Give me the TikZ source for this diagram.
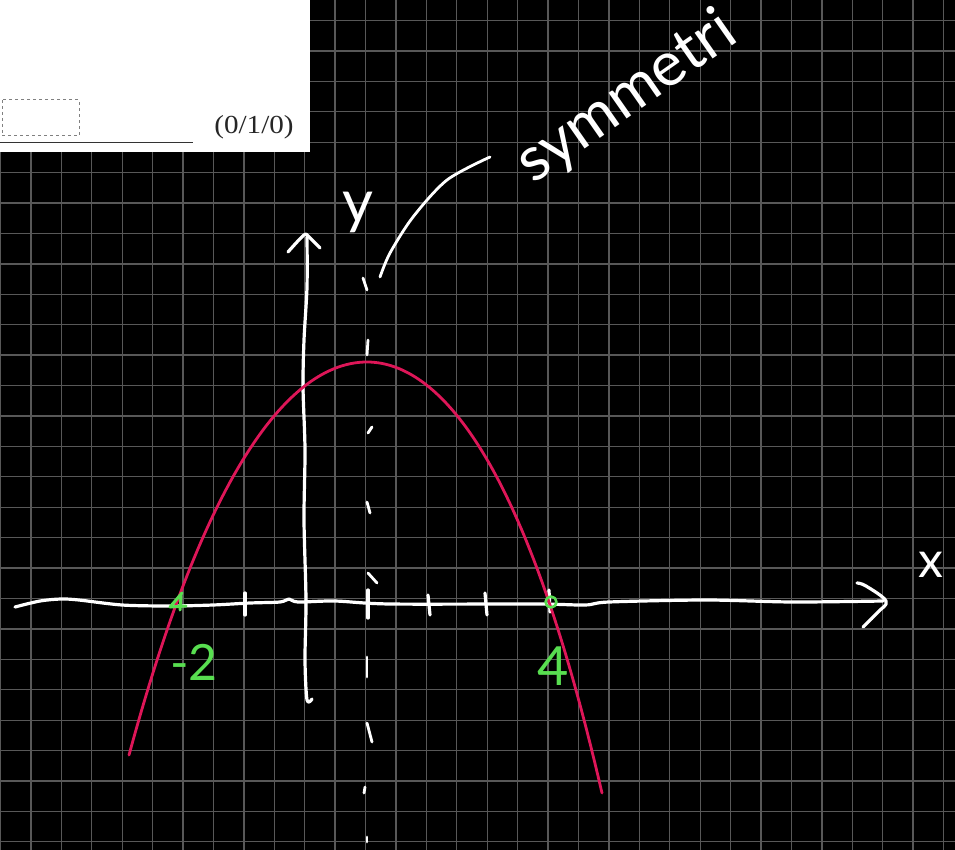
\documentclass[tikz,border=0pt]{standalone}
\usepackage{fontspec}
\setmainfont{Liberation Serif}
\newfontfamily\handfont{Lato}
\usetikzlibrary{positioning,calc}
\definecolor{gridgrey}{RGB}{88,88,88}
\definecolor{inkred}{RGB}{222,22,88}
\definecolor{inkgreen}{RGB}{88,222,80}
\tikzset{
  gridline/.style={draw=gridgrey,line width=1.3pt},
  chalk/.style={draw=white,line width=3.2pt,line cap=round,line join=round},
  redink/.style={draw=inkred,line width=2.8pt,line cap=round},
  greenink/.style={draw=inkgreen,line width=3pt,line cap=round,line join=round},
  handlabel/.style={font=\handfont\fontsize{#1}{#1}\selectfont,inner sep=0pt},
}
\begin{document}
\begin{tikzpicture}[x=1pt,y=-1pt]

\useasboundingbox (0,0) rectangle (955,850);
\fill[black] (0,0) rectangle (955,850);

% grid paper
\foreach \i in {0,...,31} \draw[gridline] ({0.5+30.42*\i},0) -- ({0.5+30.42*\i},850);
\foreach \j in {0,...,27} \draw[gridline] (0,{20.5+30.42*\j}) -- (955,{20.5+30.42*\j});

% answer box
\fill[white] (0,0) rectangle (310,152);
\draw[gray,dashed,line width=1pt] (2,100) rectangle (79,136);
\draw[black!80,line width=1pt] (0,143) -- (193,143);
\node[font=\fontsize{26}{28}\selectfont,text=black!85] (score) at (254,127) {\scalebox{1.12}[1]{(0/1/0)}};

% axes
\coordinate (xtip) at (886,601);
\coordinate (ytip) at (304,235);
\draw[chalk] plot[smooth,tension=0.5] coordinates {(15,607) (40,601) (61,599) (79,600) (122,605) (170,606) (213,605) (250,603) (280,602) (289,599) (298,602) (335,601) (390,604) (536,604) (585,605) (609,602) (706,600) (792,602) (883,601)};
\draw[chalk] plot[smooth,tension=0.6] coordinates {(857,583) (866,586) (xtip) (878,612) (863,627)};
\draw[chalk] plot[smooth,tension=0.5] coordinates {(307,237) (307,287) (304,340) (303,387) (305,450) (304,520) (306,600) (305,660) (307,700) (312,699)};
\draw[chalk] plot[smooth,tension=0.5] coordinates {(288,252) (ytip) (309,237) (320,248)};
\node[handlabel=50,text=white] (xlabel) at (931,565) {x};
\node[handlabel=60,text=white] (ylabel) at (358,212) {y};

% ticks
\foreach \a/\b/\c/\d in {245/593/245/615, 428/595/430/615, 485/593/487/615, 549/590/550/612, 368/590/368/618}
  \draw[chalk] (\a,\b) -- (\c,\d);

% line of symmetry
\foreach \a/\b/\c/\d in {363/278/367/290, 368/340/367/355, 372/427/368/433, 367/502/370/513, 368/573/377/583, 367/657/367/677, 367/723/372/742, 365/787/364/793, 367/837/367/842}
  \draw[chalk,line width=2.8pt] (\a,\b) -- (\c,\d);

% label for the symmetry line
\coordinate (hook) at (380,277);
\draw[chalk,line width=2.8pt] plot[smooth] coordinates {(hook) (390,253) (413,217) (447,180) (490,157)};
\node[handlabel=62,text=white,rotate=35] (symm) at (627,98) {symmetri};

% parabola
\draw[redink] plot[domain=129:367,samples=60]
    (\x,{362+61.36*((\x-367)/100)*((\x-367)/100)+1.418*((\x-367)/100)*((\x-367)/100)*((\x-367)/100)*((\x-367)/100)})
  -- plot[domain=367:602,samples=60]
    (\x,{362+64.08*((\x-367)/100)*((\x-367)/100)+2.53*((\x-367)/100)*((\x-367)/100)*((\x-367)/100)*((\x-367)/100)});

% roots
\draw[greenink] (182,593) -- (170,607) -- (186,606) (181,596) -- (180,610);
\draw[greenink,line width=2.6pt] (551,602) circle (5.5);
\node[handlabel=50,text=inkgreen] (rootA) at (194,662) {-2};
\node[handlabel=54,text=inkgreen] (rootB) at (553,666) {4};

\end{tikzpicture}
\end{document}
